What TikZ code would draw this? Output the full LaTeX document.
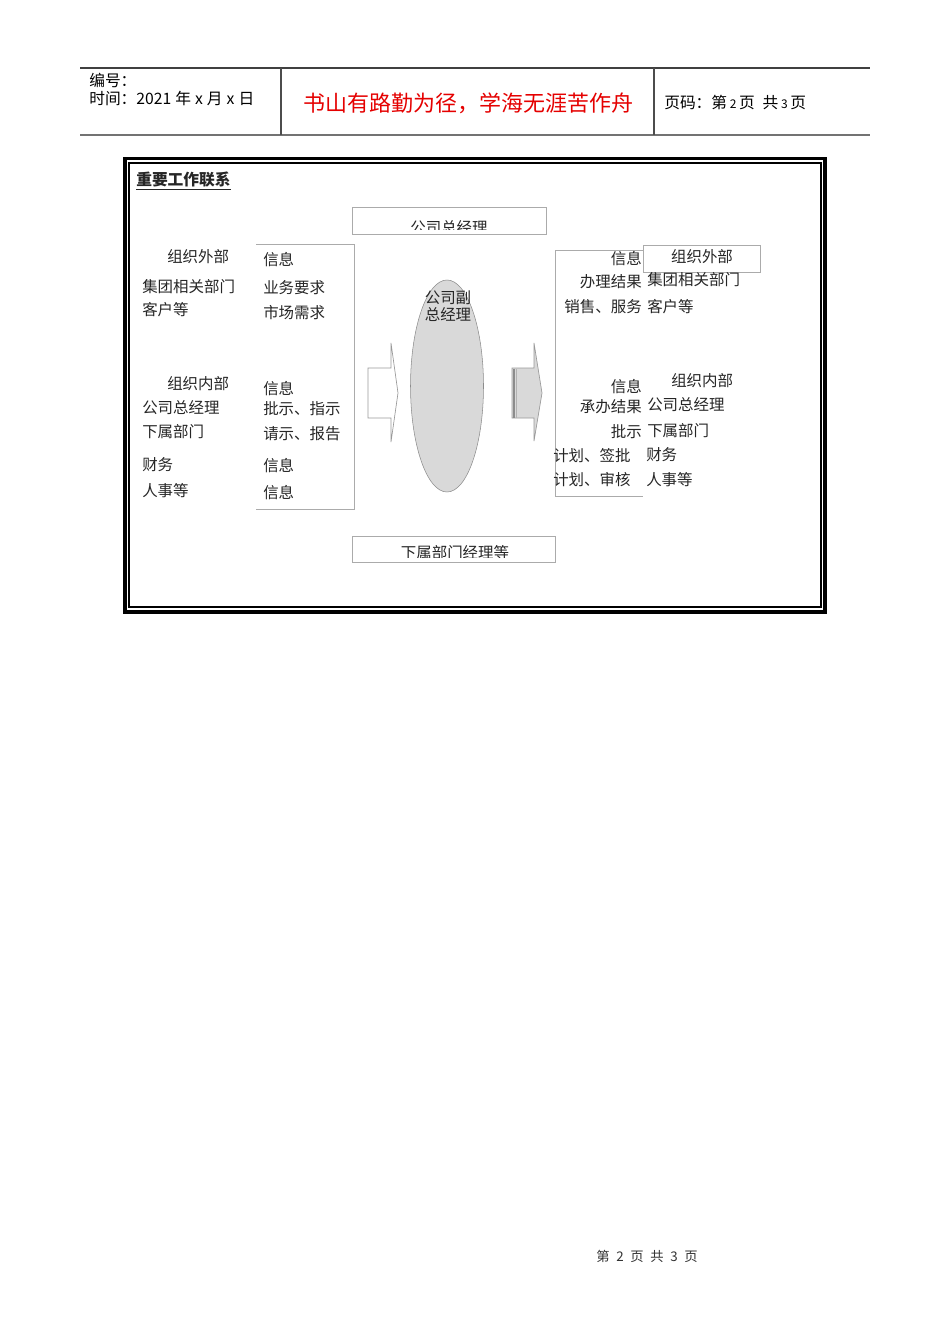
\documentclass[tikz,border=0pt]{standalone}
\usepackage{fontspec}
\setmainfont{Noto Sans CJK SC}
\usetikzlibrary{calc,shapes.geometric}
\definecolor{boxgray}{HTML}{ABABAB}
\definecolor{ellfill}{HTML}{D9D9D9}
\begin{document}
\begin{tikzpicture}[x=0.75pt,y=-0.75pt,
  txt/.style={inner sep=0pt,font=\fontsize{11.6pt}{13pt}\selectfont,text=black!85},
  lt/.style={txt,anchor=west},
  rt/.style={txt,anchor=east},
  thinbox/.style={draw=boxgray,line width=0.6pt},
  hd/.style={inner sep=0pt,anchor=west,font=\fontsize{11.8pt}{13pt}\selectfont}]
\useasboundingbox (0,0) rectangle (950,1344);
\fill[white] (0,0) rectangle (950,1344);
% header
\draw[black!75,line width=0.8pt] (80,68) -- (870,68);
\draw[black!55,line width=1.4pt] (80,135) -- (870,135);
\draw[black!70,line width=0.8pt] (281,68) -- (281,135);
\draw[black!70,line width=0.8pt] (654,68) -- (654,135);
\node[hd] (bh) at (89,80) {编号：};
\node[hd] (sj) at (89,99) {时间：2021\hspace{3pt}年\hspace{3pt}x\hspace{3pt}月\hspace{3pt}x\hspace{3pt}日};
\node[inner sep=0pt,text=red!90!black,font=\fontsize{16.5pt}{18pt}\selectfont] (title) at (468,103) {书山有路勤为径，学海无涯苦作舟};
\node[hd] (ym) at (664,103) {页码：第\,{\fontsize{9pt}{10pt}\selectfont 2}\,页\enspace 共\,{\fontsize{9pt}{10pt}\selectfont 3}\,页};
% frame
\draw[black,line width=2.4pt] (125,158.5) rectangle (825,612);
\draw[black,line width=1pt] (129,163) rectangle (821,607);
\node[lt,font=\bfseries\fontsize{11.8pt}{13pt}\selectfont] (hdr) at (136,181) {\underline{重要工作联系}};
% top box
\draw[thinbox] (352,207) rectangle (546,234);
\begin{scope}
\clip (352,207) rectangle (546,230);
\node[txt] (zjl) at (449,228) {公司总经理};
\end{scope}
% bottom box
\draw[thinbox] (352,536) rectangle (555,562);
\begin{scope}
\clip (352,536) rectangle (555,557);
\node[txt] (xsb) at (455,552.5) {下属部门经理等};
\end{scope}
% left bracket box
\draw[boxgray,line width=0.6pt] (256,244) -- (354,244) -- (354,509) -- (256,509);
% right bracket box
\draw[boxgray,line width=0.6pt] (643,250) -- (555,250) -- (555,496) -- (643,496);
\draw[thinbox] (643,245) rectangle (760,272);
% ellipse
\node[draw=black!45,fill=ellfill,ellipse,minimum width=54.75pt,minimum height=159pt,inner sep=0pt] (fzjl) at (447,386) {};
\node[txt,align=center] (fzjlt) at (448,306) {公司副\\总经理};
% left arrow
\draw[black!40,fill=white,line width=0.5pt] (368,368) -- (391,368) -- (391,343) -- (398,393) -- (391,442) -- (391,418) -- (368,418) -- cycle;
% right arrow
\draw[black!40,fill=ellfill,line width=0.5pt] (512,368) -- (534,368) -- (534,343) -- (542,393) -- (534,441) -- (534,418) -- (512,418) -- cycle;
\fill[black!45] (513,368.5) rectangle (514.5,417.5);
\fill[black!30] (515.5,368.5) rectangle (517,417.5);
% left texts
\node[lt] (a1) at (167,257) {组织外部};
\node[lt] (a2) at (142,287) {集团相关部门};
\node[lt] (a3) at (142,310) {客户等};
\node[lt] (a4) at (167,384) {组织内部};
\node[lt] (a5) at (142,408) {公司总经理};
\node[lt] (a6) at (142,432) {下属部门};
\node[lt] (a7) at (142,465) {财务};
\node[lt] (a8) at (142,491) {人事等};
\node[lt] (b1) at (263,260) {信息};
\node[lt] (b2) at (263,288) {业务要求};
\node[lt] (b3) at (263,313) {市场需求};
\node[lt] (b4) at (263,389) {信息};
\node[lt] (b5) at (263,409) {批示、指示};
\node[lt] (b6) at (263,434) {请示、报告};
\node[lt] (b7) at (263,466) {信息};
\node[lt] (b8) at (263,493) {信息};
% right texts
\node[rt] (c1) at (642,259) {信息};
\node[rt] (c2) at (642,282) {办理结果};
\node[rt] (c3) at (642,307) {销售、服务};
\node[rt] (c4) at (642,387) {信息};
\node[rt] (c5) at (642,407) {承办结果};
\node[rt] (c6) at (642,432) {批示};
\node[lt] (c7) at (553,456) {计划、签批};
\node[lt] (c8) at (553,480) {计划、审核};
\node[txt] (d1) at (702,257) {组织外部};
\node[lt] (d2) at (647,280) {集团相关部门};
\node[lt] (d3) at (647,307) {客户等};
\node[lt] (d4) at (671,381) {组织内部};
\node[lt] (d5) at (647,405) {公司总经理};
\node[lt] (d6) at (647,431) {下属部门};
\node[lt] (d7) at (646,455) {财务};
\node[lt] (d8) at (646,480) {人事等};
% footer
\node[inner sep=0pt,font=\fontsize{10pt}{12pt}\selectfont,text=black!80] (ft) at (647,1256) {第\enspace 2\enspace 页\enspace 共\enspace 3\enspace 页};
\end{tikzpicture}
\end{document}
